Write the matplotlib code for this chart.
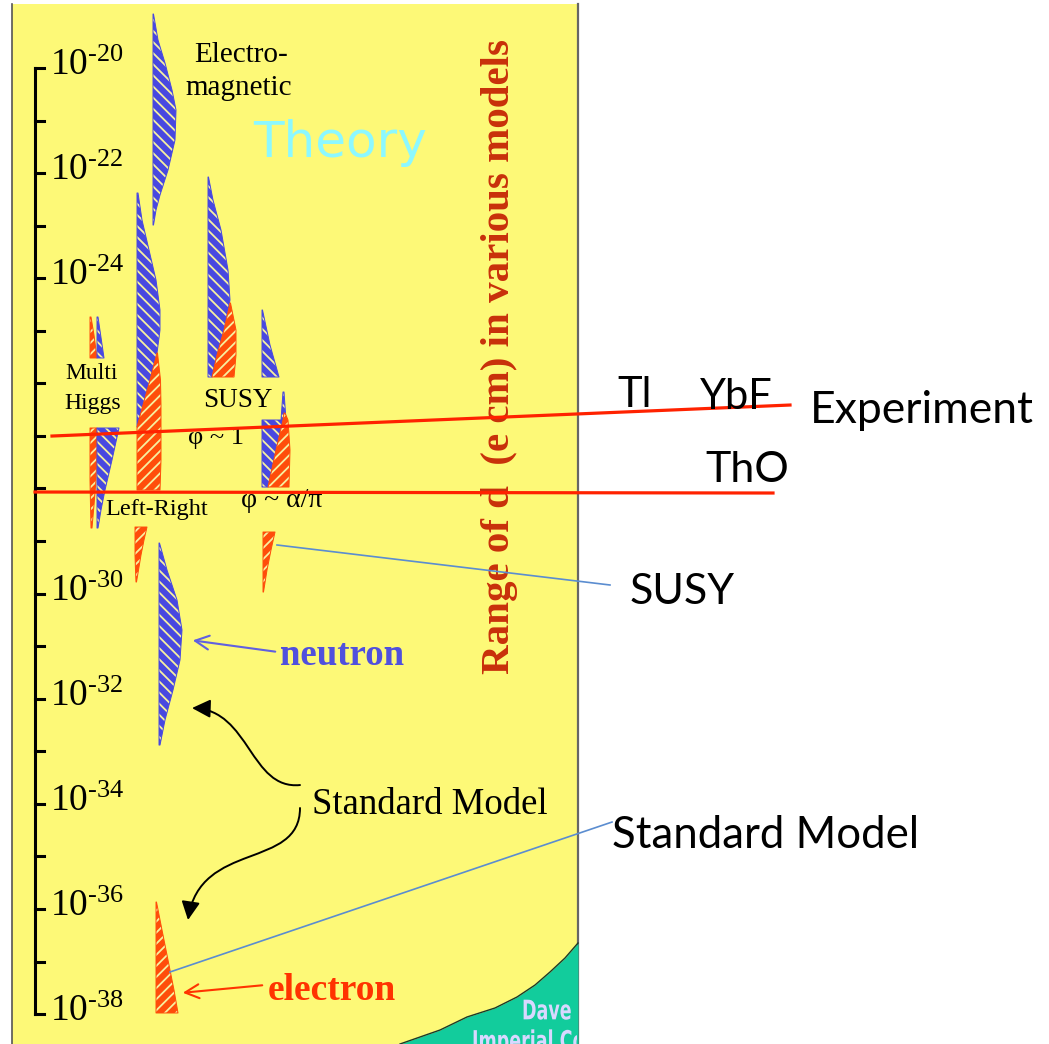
import matplotlib
matplotlib.use("Agg")
import matplotlib.pyplot as plt
from matplotlib.patches import FancyArrowPatch, PathPatch
from matplotlib.path import Path
from matplotlib.textpath import TextPath
from matplotlib.font_manager import FontProperties
from matplotlib.transforms import Affine2D, Bbox
import numpy as np

plt.rcParams['mathtext.fontset'] = 'custom'
plt.rcParams['mathtext.rm'] = 'Liberation Serif'
plt.rcParams['mathtext.it'] = 'Liberation Serif:italic'
plt.rcParams['hatch.linewidth'] = 1.3

SERIF = 'Liberation Serif'
SANS = 'Lato'
YELLOW = '#FDF977'
BLUE = '#4848E0'
ORANGE = '#FF4D0A'
STRIPE = '#F6F0A0'
RED_LINE = '#FF2200'
LEADER = '#5B8DD0'

# vertical scale: log10 of the EDM (e cm)
decades = np.arange(-20, -39, -1)
label_decades = [-20, -22, -24, -30, -32, -34, -36, -38]

# model ranges (y = log10 d, x = column position), left / right edges
em_y = [-18.973, -19.467, -19.905, -20.419, -20.799, -21.370, -21.941, -22.416, -22.702, -22.987]
em_l = [153, 153, 153, 153, 153, 153, 153, 153, 153, 153]
em_r = [153.5, 158, 165, 172, 176, 175, 168, 160, 156, 153.5]

lr_blue_y = [-22.378, -22.892, -23.463, -24.033, -24.604, -24.985, -25.422, -25.936, -26.412, -26.830]
lr_blue_l = [137, 137, 137, 137, 137, 137, 137, 137, 137, 137]
lr_blue_r = [138, 142, 149, 156, 160, 160, 157, 150, 143, 138]
lr_or_y = [-25.422, -25.936, -26.412, -26.830, -27.458, -28.029]
lr_or_l = [157, 150, 143, 137, 137, 137]
lr_or_r = [157.5, 160.5, 161, 161, 161, 160]
lr_low_y = [-28.733, -28.980, -29.266, -29.551, -29.779]
lr_low_l = [135, 135, 135, 135.5, 136]
lr_low_r = [147, 144, 141, 138.5, 136.5]

mh_top_or_y = [-24.737, -25.080, -25.517]
mh_top_or_l = [90, 90, 90]
mh_top_or_r = [91, 94, 97]
mh_top_bl_y = [-24.737, -25.517]
mh_top_bl_l = [97, 97]
mh_top_bl_r = [98, 104]
mh_or_y = [-26.849, -27.268, -27.839, -28.314, -28.752]
mh_or_l = [90, 90, 90, 90.5, 91]
mh_or_r = [97, 97, 96, 94, 92]
mh_bl_y = [-26.849, -27.458, -28.029, -28.409, -28.752]
mh_bl_l = [97, 97, 97, 97, 97]
mh_bl_r = [119, 112, 105, 101, 98]

s1_bl_y = [-22.074, -22.511, -23.082, -23.843, -24.414, -24.985, -25.460, -25.879]
s1_bl_l = [208, 208, 208, 208, 208, 208, 208, 208]
s1_bl_r = [208.5, 213, 221, 228, 230, 224, 217, 212]
s1_or_y = [-24.471, -24.985, -25.460, -25.879]
s1_or_l = [230, 224, 217, 212]
s1_or_r = [230.5, 236, 236, 234]

s2_top_y = [-24.604, -25.270, -25.879]
s2_top_l = [262, 262, 262]
s2_top_r = [262.5, 270, 279]
s2_spike_y = [-26.164, -26.697]
s2_spike_l = [283, 281]
s2_spike_r = [284, 286]
s2_bl_y = [-26.697, -27.268, -27.972]
s2_bl_l = [262, 262, 262]
s2_bl_r = [283, 276, 268]
s2_or_y = [-26.564, -26.697, -27.268, -27.972]
s2_or_l = [284, 283, 276, 268]
s2_or_r = [285, 288, 290, 289]
s2_low_y = [-28.828, -29.170, -29.551, -29.970]
s2_low_l = [263, 263, 263, 263]
s2_low_r = [275, 271, 267, 263.5]

neutron_y = [-29.037, -29.551, -30.122, -30.693, -31.264, -31.834, -32.405, -32.881]
neutron_l = [159, 159, 159, 159, 159, 159, 159, 159]
neutron_r = [159.5, 167, 177, 182, 180, 173, 165, 160]

electron_y = [-35.868, -36.400, -36.971, -37.542, -37.979]
electron_l = [156, 156, 156, 156, 156]
electron_r = [156.5, 162, 168, 174, 178]

# experimental limits
exp1_x = [52, 790]
exp1_y = [-27.002, -26.412]
exp2_x = [35, 773]
exp2_y = [-28.067, -28.086]

# leader lines
susy_lead_x = [277, 610]
susy_lead_y = [-29.075, -29.836]
sm_lead_x = [170, 612]
sm_lead_y = [-37.199, -34.346]

# bottom corner region
corner_x = [400, 440, 467, 495, 517, 535, 550, 565, 578]
corner_y = [-38.569, -38.303, -38.055, -37.884, -37.675, -37.447, -37.199, -36.933, -36.648]

Y_BOTTOM, Y_TOP, PANEL_TOP = -38.569, -18.706, -18.782

fig = plt.figure(figsize=(10.49, 10.44), dpi=100)
ax = fig.add_axes([0, 0, 1, 1])
ax.set_xlim(0, 1049)
ax.set_ylim(Y_BOTTOM, Y_TOP)
ax.axis('off')

# yellow panel
ax.fill_between([12, 578], Y_BOTTOM, PANEL_TOP, color=YELLOW, lw=0, zorder=0)
ax.plot([12, 12], [Y_BOTTOM, PANEL_TOP], color='#555555', lw=1.2, zorder=1)
ax.plot([578, 578], [Y_BOTTOM, PANEL_TOP], color='#666666', lw=1.6, zorder=1)
ax.fill_between(corner_x, corner_y, Y_BOTTOM, color='#12CC9C', lw=0, zorder=1)
ax.plot(corner_x, corner_y, color='#1a3a2a', lw=1.0, zorder=1)

# condensed lettering in the corner
fig.canvas.draw()
fp = FontProperties(family='DejaVu Sans', weight='bold')
panel_clip = ax.transData.transform_bbox(Bbox([[12, Y_BOTTOM], [577, PANEL_TOP]]))
for txt, x0, y0, sx in [('Dave', 522, -38.10, 17.5), ('Imperial College', 472, -38.68, 17.5)]:
    tp = TextPath((0, 0), txt, size=1, prop=fp)
    px, py = ax.transData.transform((x0, y0))
    tr = Affine2D().scale(sx, 27).translate(px, py)
    patch = PathPatch(tp, transform=tr, facecolor='#D8D8FF', lw=0, zorder=2)
    patch.set_clip_box(panel_clip)
    fig.add_artist(patch)

# vertical axis
ax.plot([35, 35], [decades[0], decades[-1]], color='black', lw=2.2, zorder=3)
for d in decades:
    ax.plot([35, 44], [d, d], color='black', lw=2.2, zorder=3)
for d in label_decades:
    ax.annotate(r'$10^{\text{-}%d}$' % abs(d), xy=(50, d), xytext=(0, -5), textcoords='offset points',
                fontsize=27, ha='left', va='baseline', zorder=3)


def band(y, xl, xr, color, hatch):
    ax.fill_betweenx(y, xl, xr, facecolor=color, edgecolor=STRIPE, hatch=hatch, lw=0, zorder=4)
    ax.fill_betweenx(y, xl, xr, facecolor='none', edgecolor=color, lw=0.7, zorder=4)


band(em_y, em_l, em_r, BLUE, '\\\\\\')
band(lr_blue_y, lr_blue_l, lr_blue_r, BLUE, '\\\\\\')
band(lr_or_y, lr_or_l, lr_or_r, ORANGE, '///')
band(lr_low_y, lr_low_l, lr_low_r, ORANGE, '///')
band(mh_top_or_y, mh_top_or_l, mh_top_or_r, ORANGE, '///')
band(mh_top_bl_y, mh_top_bl_l, mh_top_bl_r, BLUE, '\\\\\\')
band(mh_or_y, mh_or_l, mh_or_r, ORANGE, '///')
band(mh_bl_y, mh_bl_l, mh_bl_r, BLUE, '\\\\\\')
band(s1_bl_y, s1_bl_l, s1_bl_r, BLUE, '\\\\\\')
band(s1_or_y, s1_or_l, s1_or_r, ORANGE, '///')
band(s2_top_y, s2_top_l, s2_top_r, BLUE, '\\\\\\')
band(s2_spike_y, s2_spike_l, s2_spike_r, BLUE, '\\\\\\')
band(s2_bl_y, s2_bl_l, s2_bl_r, BLUE, '\\\\\\')
band(s2_or_y, s2_or_l, s2_or_r, ORANGE, '///')
band(s2_low_y, s2_low_l, s2_low_r, ORANGE, '///')
band(neutron_y, neutron_l, neutron_r, BLUE, '\\\\\\')
band(electron_y, electron_l, electron_r, ORANGE, '///')

# model labels
ax.text(241, -19.753, 'Electro-', family=SERIF, fontsize=21, ha='center', va='center', zorder=5)
ax.text(239, -20.381, 'magnetic', family=SERIF, fontsize=21, ha='center', va='center', zorder=5)
ax.text(340, -21.427, 'Theory', family='DejaVu Sans', fontsize=36, color='#8CF8FF',
        ha='center', va='center', zorder=5)
ax.text(92, -25.803, 'Multi', family=SERIF, fontsize=17, ha='center', va='center', zorder=5)
ax.text(93, -26.374, 'Higgs', family=SERIF, fontsize=17, ha='center', va='center', zorder=5)
ax.text(238, -26.317, 'SUSY', family=SERIF, fontsize=19.5, ha='center', va='center', zorder=5)
ax.text(216, -27.040, 'φ ~ 1', family=SERIF, fontsize=19, ha='center', va='center', zorder=5)
ax.text(157, -28.409, 'Left-Right', family=SERIF, fontsize=17.5, ha='center', va='center', zorder=5)
ax.text(282, -28.219, 'φ ~ α/π', family=SERIF, fontsize=20, ha='center', va='center', zorder=5)
ax.text(280, -31.168, 'neutron', family=SERIF, fontsize=26.5, fontweight='bold', color='#5050DD',
        ha='left', va='center', zorder=5)
ax.text(312, -34.022, 'Standard Model', family=SERIF, fontsize=26.5, ha='left', va='center', zorder=5)
ax.text(268, -37.542, 'electron', family=SERIF, fontsize=27, fontweight='bold', color='#FF3300',
        ha='left', va='center', zorder=5)
ax.text(500, -25.498, 'Range of d  (e cm) in various models', family=SERIF, fontsize=29.5,
        fontweight='bold', color='#C8300A', rotation=90, ha='center', va='center', zorder=5)

# arrows
ax.annotate('', xy=(190, -30.883), xytext=(278, -31.111),
            arrowprops=dict(arrowstyle='->', color='#6060E0', lw=1.5, mutation_scale=25), zorder=5)
ax.annotate('', xy=(180, -37.599), xytext=(265, -37.447),
            arrowprops=dict(arrowstyle='->', color='#FF3300', lw=1.5, mutation_scale=25), zorder=5)
sm_arrow1 = [(300, -33.642), (250, -33.737), (250, -32.215), (192, -32.177)]
sm_arrow2 = [(300, -34.079), (300, -35.259), (200, -34.688), (188, -36.210)]
for verts in (sm_arrow1, sm_arrow2):
    p = Path(verts, [Path.MOVETO, Path.CURVE4, Path.CURVE4, Path.CURVE4])
    ax.add_patch(FancyArrowPatch(path=p, arrowstyle='-|>', color='black', lw=1.4,
                                 mutation_scale=28, zorder=5))

# experimental limits and leaders
ax.plot(exp1_x, exp1_y, color=RED_LINE, lw=2.3, zorder=6)
ax.plot(exp2_x, exp2_y, color=RED_LINE, lw=2.3, zorder=6)
ax.plot(susy_lead_x, susy_lead_y, color=LEADER, lw=1.2, zorder=6)
ax.plot(sm_lead_x, sm_lead_y, color=LEADER, lw=1.2, zorder=6)

ax.text(617, -26.221, 'Tl', family=SANS, fontsize=30, ha='left', va='center', zorder=7)
ax.text(700, -26.259, 'YbF', family=SANS, fontsize=30, ha='left', va='center', zorder=7)
ax.text(810, -26.507, 'Experiment', family=SANS, fontsize=32, ha='left', va='center', zorder=7)
ax.text(705, -27.648, 'ThO', family=SANS, fontsize=31, ha='left', va='center', zorder=7)
ax.text(630, -29.970, 'SUSY', family=SANS, fontsize=31, ha='left', va='center', zorder=7)
ax.text(612, -34.593, 'Standard Model', family=SANS, fontsize=31.5, ha='left', va='center', zorder=7)

fig.savefig('out.png', dpi=100)
